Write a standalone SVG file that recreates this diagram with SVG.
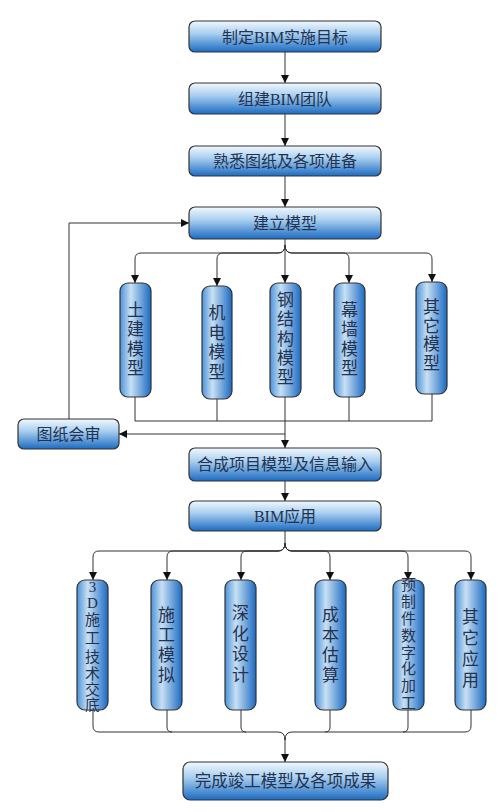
<svg xmlns="http://www.w3.org/2000/svg" width="500" height="812" viewBox="0 0 500 812">
<defs>
<linearGradient id="gh" x1="0" y1="0" x2="0" y2="1">
<stop offset="0" stop-color="#f2f8fd"/>
<stop offset="0.4" stop-color="#a9cff0"/>
<stop offset="1" stop-color="#1c6bc2"/>
</linearGradient>
<linearGradient id="gv" x1="0" y1="0" x2="1" y2="0">
<stop offset="0" stop-color="#4b93da"/>
<stop offset="0.35" stop-color="#c8e0f4"/>
<stop offset="1" stop-color="#1c6ac2"/>
</linearGradient>
<marker id="ar" viewBox="0 0 10 10" refX="10" refY="5" markerWidth="8" markerHeight="9" markerUnits="userSpaceOnUse" orient="auto">
<path d="M0,0 L10,5 L0,10 z" fill="#111"/>
</marker>
</defs>
<style>
.h{fill:url(#gh);stroke:#333;stroke-width:1.2}
.v{fill:url(#gv);stroke:#333;stroke-width:1.2}
.t{font-family:"Liberation Serif","Noto Sans CJK SC",serif;fill:#23324f;text-anchor:middle}
.c{fill:none;stroke:#333;stroke-width:1}
.a{marker-end:url(#ar)}
</style>
<rect width="500" height="812" fill="#fff"/>
<g id="connectors">
<path class="c a" d="M285,52 V83"/>
<path class="c a" d="M285,114 V146"/>
<path class="c a" d="M285,176 V207"/>
<path class="c a" d="M285,239 V283"/>
<path class="c a" d="M285,245 Q285,253 278,253 H141 Q135,253 135,259 V283"/>
<path class="c a" d="M285,245 Q285,253 278,253 H223 Q217,253 217,259 V286"/>
<path class="c a" d="M285,245 Q285,253 292,253 H343 Q349,253 349,259 V283"/>
<path class="c a" d="M285,245 Q285,253 292,253 H426 Q432,253 432,259 V282"/>
<path class="c" d="M135,397 V421 H432 V394"/>
<path class="c" d="M217,399 V421"/>
<path class="c" d="M349,397 V421"/>
<path class="c a" d="M285,397 V448"/>
<path class="c a" d="M285,434 H119"/>
<path class="c a" d="M69,419 V223 H189"/>
<path class="c a" d="M285,481 V501"/>
<path class="c a" d="M285,531 V543 Q285,551 278,551 H99 Q93,551 93,557 V580"/>
<path class="c a" d="M285,543 Q285,551 278,551 H173 Q167,551 167,557 V580"/>
<path class="c a" d="M285,543 Q285,551 278,551 H247 Q241,551 241,557 V580"/>
<path class="c a" d="M285,543 Q285,551 292,551 H324 Q330,551 330,557 V580"/>
<path class="c a" d="M285,543 Q285,551 292,551 H402 Q408,551 408,557 V580"/>
<path class="c a" d="M285,543 Q285,551 292,551 H465 Q471,551 471,557 V580"/>
<path class="c" d="M93,710 V726 Q93,732 99,732 H278 Q285,732 285,740"/>
<path class="c" d="M471,710 V726 Q471,732 465,732 H292 Q285,732 285,740"/>
<path class="c" d="M167,710 V727 Q167,732 172,732"/>
<path class="c" d="M241,710 V727 Q241,732 246,732"/>
<path class="c" d="M330,710 V727 Q330,732 325,732"/>
<path class="c" d="M408,710 V727 Q408,732 403,732"/>
<path class="c a" d="M285,738 V762"/>
</g>
<g id="n1"><rect class="h" x="189" y="21" width="192" height="31" rx="6"/><text class="t" x="285" y="42.5" font-size="16">制定BIM实施目标</text></g>
<g id="n2"><rect class="h" x="189" y="83" width="192" height="31" rx="6"/><text class="t" x="285" y="104.5" font-size="16">组建BIM团队</text></g>
<g id="n3"><rect class="h" x="189" y="146" width="192" height="30" rx="6"/><text class="t" x="285" y="167" font-size="16">熟悉图纸及各项准备</text></g>
<g id="n4"><rect class="h" x="189" y="207" width="192" height="32" rx="6"/><text class="t" x="285" y="228.5" font-size="16">建立模型</text></g>
<g id="m1"><rect class="v" x="120" y="283" width="31" height="114" rx="8"/><text class="t" font-size="17"><tspan x="135.5" y="316">土</tspan><tspan x="135.5" y="335">建</tspan><tspan x="135.5" y="355">模</tspan><tspan x="135.5" y="374">型</tspan></text></g>
<g id="m2"><rect class="v" x="202" y="286" width="30" height="113" rx="8"/><text class="t" font-size="17"><tspan x="217" y="319">机</tspan><tspan x="217" y="339">电</tspan><tspan x="217" y="358">模</tspan><tspan x="217" y="378">型</tspan></text></g>
<g id="m3"><rect class="v" x="270" y="283" width="31" height="114" rx="8"/><text class="t" font-size="17"><tspan x="285.5" y="306">钢</tspan><tspan x="285.5" y="325">结</tspan><tspan x="285.5" y="345">构</tspan><tspan x="285.5" y="364">模</tspan><tspan x="285.5" y="383">型</tspan></text></g>
<g id="m4"><rect class="v" x="334" y="283" width="31" height="114" rx="8"/><text class="t" font-size="17"><tspan x="349.5" y="316">幕</tspan><tspan x="349.5" y="335">墙</tspan><tspan x="349.5" y="355">模</tspan><tspan x="349.5" y="374">型</tspan></text></g>
<g id="m5"><rect class="v" x="416" y="282" width="31" height="112" rx="8"/><text class="t" font-size="17"><tspan x="431.5" y="313">其</tspan><tspan x="431.5" y="332">它</tspan><tspan x="431.5" y="350">模</tspan><tspan x="431.5" y="369">型</tspan></text></g>
<g id="review"><rect class="h" x="18" y="419" width="101" height="30" rx="6"/><text class="t" x="68.5" y="440" font-size="16">图纸会审</text></g>
<g id="n5"><rect class="h" x="189" y="448" width="192" height="33" rx="6"/><text class="t" x="285" y="470" font-size="16">合成项目模型及信息输入</text></g>
<g id="n6"><rect class="h" x="189" y="501" width="192" height="30" rx="6"/><text class="t" x="285" y="522" font-size="16">BIM应用</text></g>
<g id="a1"><rect class="v" x="77" y="580" width="31" height="130" rx="8"/><text class="t" font-size="15"><tspan x="92.5" y="592">3</tspan><tspan x="92.5" y="608">D</tspan><tspan x="92.5" y="625">施</tspan><tspan x="92.5" y="643">工</tspan><tspan x="92.5" y="662">技</tspan><tspan x="92.5" y="679">术</tspan><tspan x="92.5" y="695">交</tspan><tspan x="92.5" y="710">底</tspan></text></g>
<g id="a2"><rect class="v" x="151" y="580" width="31" height="130" rx="8"/><text class="t" font-size="17"><tspan x="166.5" y="621">施</tspan><tspan x="166.5" y="641">工</tspan><tspan x="166.5" y="661">模</tspan><tspan x="166.5" y="681">拟</tspan></text></g>
<g id="a3"><rect class="v" x="225" y="580" width="31" height="130" rx="8"/><text class="t" font-size="17"><tspan x="240.5" y="619">深</tspan><tspan x="240.5" y="640">化</tspan><tspan x="240.5" y="660">设</tspan><tspan x="240.5" y="681">计</tspan></text></g>
<g id="a4"><rect class="v" x="315" y="580" width="31" height="130" rx="8"/><text class="t" font-size="17"><tspan x="330.5" y="621">成</tspan><tspan x="330.5" y="641">本</tspan><tspan x="330.5" y="661">估</tspan><tspan x="330.5" y="681">算</tspan></text></g>
<g id="a5"><rect class="v" x="393" y="580" width="31" height="130" rx="8"/><text class="t" font-size="15"><tspan x="408.5" y="590">预</tspan><tspan x="408.5" y="607">制</tspan><tspan x="408.5" y="624">件</tspan><tspan x="408.5" y="641">数</tspan><tspan x="408.5" y="658">字</tspan><tspan x="408.5" y="674">化</tspan><tspan x="408.5" y="691">加</tspan><tspan x="408.5" y="708">工</tspan></text></g>
<g id="a6"><rect class="v" x="455" y="580" width="31" height="130" rx="8"/><text class="t" font-size="17"><tspan x="470.5" y="623">其</tspan><tspan x="470.5" y="644">它</tspan><tspan x="470.5" y="665">应</tspan><tspan x="470.5" y="686">用</tspan></text></g>
<g id="n7"><rect class="h" x="183" y="762" width="205" height="38" rx="7"/><text class="t" x="285.5" y="787" font-size="16.5">完成竣工模型及各项成果</text></g>
</svg>
